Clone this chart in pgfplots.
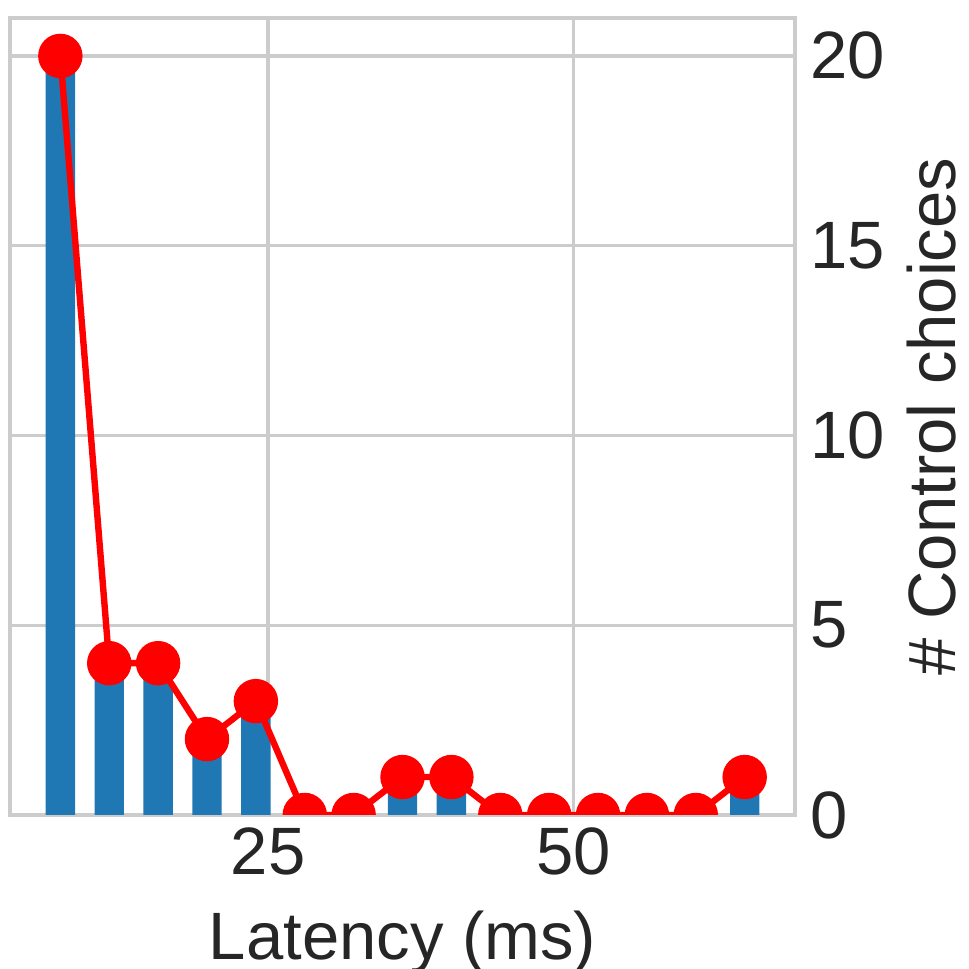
\documentclass[border=0pt]{standalone}
\usepackage{fontspec}
\setmainfont{Liberation Sans}
\usepackage{pgfplots}
\pgfplotsset{compat=1.18}
\definecolor{barblue}{HTML}{1F77B4}
\definecolor{gridgray}{HTML}{CCCCCC}
\definecolor{textgray}{HTML}{262626}
\begin{document}
\fontsize{16.75}{20}\selectfont
\begin{tikzpicture}
\useasboundingbox (-2.5pt,-38.5pt) rectangle (239.75pt,203.75pt);
\begin{axis}[
  at={(0,0)}, anchor=south west,
  scale only axis,
  width=196.25pt, height=199.25pt,
  xmin=3.88, xmax=68.12, ymin=0, ymax=21,
  xtick={25,50}, ytick={0,5,10,15,20},
  yticklabel pos=right,
  major tick length=0pt,
  grid=major,
  major grid style={gridgray, line width=0.8pt},
  axis line style={gridgray, line width=0.9pt},
  tick style={draw=none},
  clip marker paths=true,
  ticklabel style={textgray, font=\fontsize{16.75}{20}\selectfont},
  xticklabel style={yshift=2.5pt},
  yticklabel style={xshift=-2pt},
  /pgf/number format/assume math mode=true,
  xlabel={Latency (ms)},
  ylabel={\# Control choices},
  every axis x label/.style={at={(axis description cs:0.5,-0.1807)}, anchor=base, textgray, font=\fontsize{16.75}{20}\selectfont},
  every axis y label/.style={at={(axis description cs:1.2038,0.5)}, rotate=90, anchor=base, textgray, font=\fontsize{16.75}{20}\selectfont},
]
\addplot[ybar, bar width=2.4, fill=barblue, draw=none, bar shift=0pt] coordinates {
 (8,20) (12,4) (16,4) (20,2) (24,3) (28,0) (32,0) (36,1) (40,1) (44,0) (48,0) (52,0) (56,0) (60,0) (64,1)
};
\addplot[red, line width=1.6pt, mark=*, mark size=4.75pt, mark options={fill=red, draw=none}] coordinates {
 (8,20) (12,4) (16,4) (20,2) (24,3) (28,0) (32,0) (36,1) (40,1) (44,0) (48,0) (52,0) (56,0) (60,0) (64,1)
};
\end{axis}
\end{tikzpicture}
\end{document}
